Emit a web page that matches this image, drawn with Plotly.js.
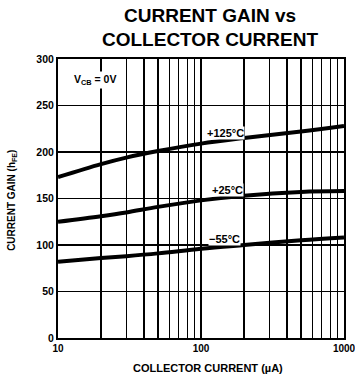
<!DOCTYPE html>
<html>
<head>
<meta charset="utf-8">
<script src="https://cdn.plot.ly/plotly-3.0.1.min.js"></script>
<style>html,body{margin:0;padding:0;background:#fff;}#chart{width:355px;height:377px;}</style>
</head>
<body>
<div id="chart"></div>
<script>
const current = [10, 20, 30, 50, 100, 200, 500, 1000];
const hfe125 = [173, 187, 194, 201, 209, 215, 222, 228];
const hfe25 = [125, 131, 135, 141, 148, 153, 157, 158];
const hfeM55 = [82, 86, 88, 91, 96, 100, 105, 108];
const seriesNames = ['+125°C', '+25°C', '−55°C'];
const majorVals = [10, 100, 1000];
const majorText = ['10', '100', '1000'];
const minorVals = [20,30,40,50,60,70,80,90,200,300,400,500,600,700,800,900];
const yTicks = [0, 50, 100, 150, 200, 250, 300];

const F = 'Liberation Sans, Arial, sans-serif';
const traces = [hfe125, hfe25, hfeM55].map((y, i) => ({
  x: current, y: y, type: 'scatter', mode: 'lines',
  line: {color: '#000', width: 4, shape: 'spline'},
  name: seriesNames[i], hoverinfo: 'skip'
}));

const layout = {
  width: 355, height: 377,
  margin: {l: 58, r: 11, t: 59, b: 39},
  paper_bgcolor: '#fff', plot_bgcolor: '#fff',
  showlegend: false,
  font: {family: F, color: '#000'},
  xaxis: {
    type: 'log', range: [1, 3],
    tickmode: 'array', tickvals: majorVals, ticktext: majorText,
    ticklabeloverflow: 'allow',
    showgrid: true, gridcolor: '#000', gridwidth: 1.2,
    minor: {tickmode: 'array', tickvals: minorVals, showgrid: true, gridcolor: '#000', gridwidth: 1.2, ticks: ''},
    showline: true, linecolor: '#000', linewidth: 2, mirror: true,
    ticks: '', zeroline: false,
    tickfont: {family: F, size: 10, weight: 'bold', color: '#000'}
  },
  yaxis: {
    range: [0, 300], tickvals: yTicks,
    showgrid: true, gridcolor: '#000', gridwidth: 1.2,
    showline: true, linecolor: '#000', linewidth: 2, mirror: true,
    ticks: '', zeroline: false,
    tickfont: {family: F, size: 10.5, weight: 'bold', color: '#000'}
  },
  annotations: [
    {text: '<b>CURRENT GAIN vs</b>', xref: 'paper', yref: 'paper', x: 0.531, y: 1.156, showarrow: false, font: {family: F, size: 19}, xanchor: 'center', yanchor: 'middle'},
    {text: '<b>COLLECTOR CURRENT</b>', xref: 'paper', yref: 'paper', x: 0.531, y: 1.070, showarrow: false, font: {family: F, size: 19}, xanchor: 'center', yanchor: 'middle'},
    {text: '<b>COLLECTOR CURRENT (µA)</b>', xref: 'paper', yref: 'paper', x: 0.524, y: -0.1075, showarrow: false, font: {family: F, size: 11}, xanchor: 'center', yanchor: 'middle'},
    {text: '<b>CURRENT GAIN (h<sub>FE</sub>)</b>', xref: 'paper', yref: 'paper', x: -0.161, y: 0.495, textangle: -90, showarrow: false, font: {family: F, size: 10}, xanchor: 'center', yanchor: 'middle'},
    {text: '<b>V<sub>CB</sub> = 0V</b>', xref: 'x', yref: 'y', x: 1.259, y: 277, showarrow: false, font: {family: F, size: 10.5}, bgcolor: '#fff', xanchor: 'center', yanchor: 'middle'},
    {text: '<b>' + seriesNames[0] + '</b>', xref: 'x', yref: 'y', x: 2.168, y: 220, showarrow: false, font: {family: F, size: 11}, bgcolor: '#fff', borderpad: 0, xanchor: 'center', yanchor: 'middle'},
    {text: '<b>' + seriesNames[1] + '</b>', xref: 'x', yref: 'y', x: 2.185, y: 159, showarrow: false, font: {family: F, size: 11}, bgcolor: '#fff', borderpad: 0, xanchor: 'center', yanchor: 'middle'},
    {text: '<b>' + seriesNames[2] + '</b>', xref: 'x', yref: 'y', x: 2.161, y: 106.5, showarrow: false, font: {family: F, size: 11}, bgcolor: '#fff', borderpad: 0, xanchor: 'center', yanchor: 'middle'}
  ]
};
Plotly.newPlot('chart', traces, layout, {displayModeBar: false, staticPlot: true});
</script>
</body>
</html>
